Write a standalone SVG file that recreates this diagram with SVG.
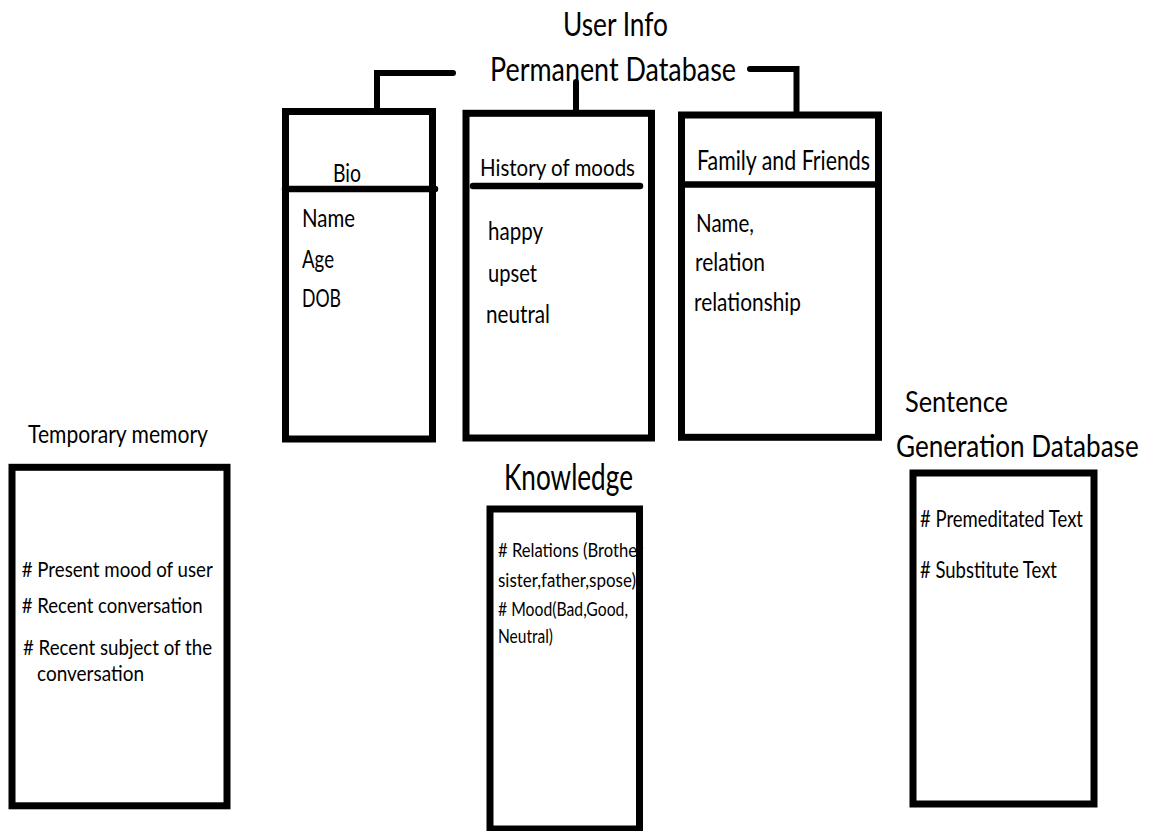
<svg xmlns="http://www.w3.org/2000/svg" width="1151" height="831" viewBox="0 0 1151 831">
  <style>
    text { font-family: "Lato", "Open Sans", "Liberation Sans", sans-serif; fill: #000; }
    .box { fill: none; stroke: #000; stroke-width: 7; }
    .div { stroke: #000; stroke-width: 6.5; stroke-linecap: round; }
    .con { fill: none; stroke: #000; stroke-width: 6; stroke-linecap: round; stroke-linejoin: miter; }
    .title { font-size: 33px; }
    .head { font-size: 25px; }
    .body { font-size: 25.5px; }
    .small { font-size: 21.5px; }
    .tiny { font-size: 19.5px; }
  </style>
  <rect width="1151" height="831" fill="#fff"/>

  <g id="connectors">
    <polyline class="con" points="453,73 377,73 377,110"/>
    <line class="con" x1="576" y1="82" x2="576" y2="110"/>
    <polyline class="con" points="750,69 796.5,69 796.5,112"/>
  </g>

  <g id="permanent-database">
    <text class="title" x="563" y="36" textLength="105" lengthAdjust="spacingAndGlyphs">User Info</text>
    <text class="title" x="490" y="81" textLength="246" lengthAdjust="spacingAndGlyphs">Permanent Database</text>
  </g>

  <g id="bio">
    <text class="head" x="333" y="182" textLength="28" lengthAdjust="spacingAndGlyphs">Bio</text>
    <text class="body" x="302" y="227" textLength="53" lengthAdjust="spacingAndGlyphs">Name</text>
    <text class="body" x="302" y="268" textLength="32" lengthAdjust="spacingAndGlyphs">Age</text>
    <text class="body" x="302" y="307" textLength="39" lengthAdjust="spacingAndGlyphs">DOB</text>
    <rect class="box" x="285.5" y="111.5" width="147" height="327.5"/>
    <line class="div" x1="285" y1="189" x2="435" y2="189"/>
  </g>

  <g id="history-of-moods">
    <text class="head" x="480" y="176" textLength="155" lengthAdjust="spacingAndGlyphs" style="font-size:24px">History of moods</text>
    <text class="body" x="488" y="240" textLength="55" lengthAdjust="spacingAndGlyphs">happy</text>
    <text class="body" x="488" y="281.5" textLength="49" lengthAdjust="spacingAndGlyphs">upset</text>
    <text class="body" x="486" y="322.5" textLength="64" lengthAdjust="spacingAndGlyphs">neutral</text>
    <rect class="box" x="466" y="113.3" width="185.5" height="324.7"/>
    <line class="div" x1="473" y1="186" x2="640" y2="186"/>
  </g>

  <g id="family-and-friends">
    <text class="head" x="697" y="170" textLength="173" lengthAdjust="spacingAndGlyphs" style="font-size:27px">Family and Friends</text>
    <text class="body" x="696" y="231.5" textLength="58" lengthAdjust="spacingAndGlyphs">Name,</text>
    <text class="body" x="695" y="270.7" textLength="70" lengthAdjust="spacingAndGlyphs">relation</text>
    <text class="body" x="694" y="310.7" textLength="107" lengthAdjust="spacingAndGlyphs">relationship</text>
    <rect class="box" x="681.5" y="115" width="197" height="322.3"/>
    <line class="div" x1="684" y1="184.5" x2="875" y2="184.5" style="stroke-linecap:butt"/>
  </g>

  <g id="temporary-memory">
    <text class="head" x="28" y="443" textLength="180" lengthAdjust="spacingAndGlyphs" style="font-size:24.5px">Temporary memory</text>
    <rect class="box" x="12" y="467.3" width="215" height="338.5"/>
    <text class="small" x="21.7" y="577" textLength="191" lengthAdjust="spacingAndGlyphs"># Present mood of user</text>
    <text class="small" x="21.7" y="613" textLength="181" lengthAdjust="spacingAndGlyphs"># Recent conversation</text>
    <text class="small" x="23" y="655" textLength="189" lengthAdjust="spacingAndGlyphs"># Recent subject  of the</text>
    <text class="small" x="37" y="681" textLength="107" lengthAdjust="spacingAndGlyphs">conversation</text>
  </g>

  <g id="knowledge">
    <text class="title" x="504" y="490" textLength="129" lengthAdjust="spacingAndGlyphs" style="font-size:37px">Knowledge</text>
    <text class="tiny" x="498" y="557" textLength="145" lengthAdjust="spacingAndGlyphs"># Relations (Brother</text>
    <text class="tiny" x="498" y="587" textLength="138" lengthAdjust="spacingAndGlyphs">sister,father,spose)</text>
    <text class="tiny" x="498" y="616" textLength="130" lengthAdjust="spacingAndGlyphs"># Mood(Bad,Good,</text>
    <text class="tiny" x="498" y="643" textLength="55" lengthAdjust="spacingAndGlyphs">Neutral)</text>
    <rect class="box" x="490" y="509" width="149.5" height="320"/>
  </g>

  <g id="sentence-generation-database">
    <text class="title" x="905" y="411.7" textLength="103" lengthAdjust="spacingAndGlyphs" style="font-size:29px">Sentence</text>
    <text class="title" transform="translate(896 456.7) scale(0.82 1)" x="0" y="0" textLength="296" lengthAdjust="spacingAndGlyphs" style="font-size:31px">Generation Database</text>
    <rect class="box" x="913" y="473" width="181" height="331"/>
    <text class="head" x="920" y="526.7" textLength="163" lengthAdjust="spacingAndGlyphs" style="font-size:23.5px"># Premeditated Text</text>
    <text class="head" x="920" y="578" textLength="137" lengthAdjust="spacingAndGlyphs" style="font-size:23.5px"># Substitute Text</text>
  </g>
</svg>
